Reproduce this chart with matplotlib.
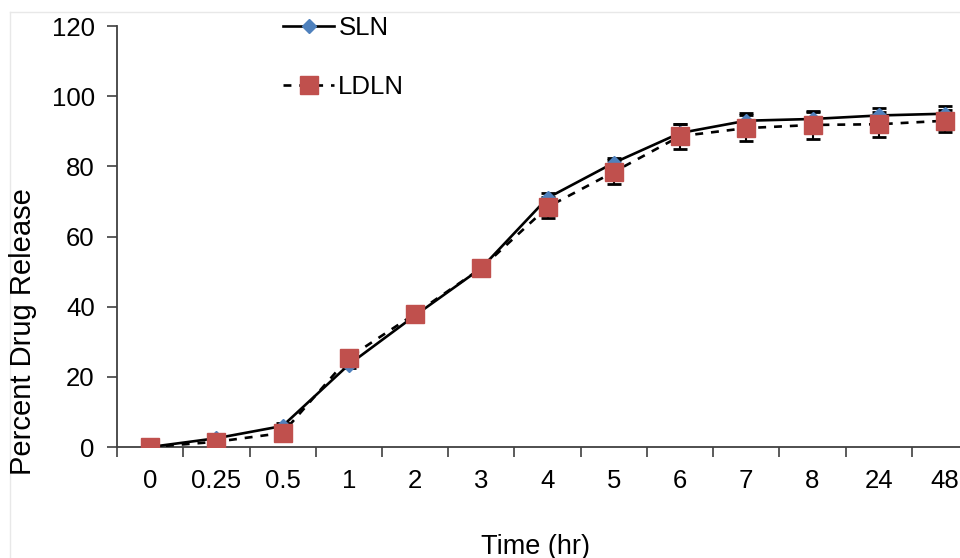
import matplotlib
matplotlib.use("Agg")
import matplotlib.pyplot as plt
from matplotlib.lines import Line2D
import numpy as np

plt.rcParams['font.family'] = ['Liberation Sans', 'DejaVu Sans']

time_labels = ["0", "0.25", "0.5", "1", "2", "3", "4", "5", "6", "7", "8", "24", "48"]
sln = [0, 2.5, 6, 23.5, 37.5, 51, 71, 81, 89.5, 93, 93.5, 94.5, 95]
sln_err = [0, 0.5, 0.8, 1.0, 1.0, 1.0, 1.5, 1.5, 2.5, 2.2, 2.0, 2.0, 2.2]
ldln = [0, 1.5, 4, 25.5, 38, 51, 68.4, 78.4, 88.6, 90.9, 91.8, 92, 93]
ldln_err = [0, 0.5, 0.8, 1.0, 1.0, 1.0, 3.0, 3.4, 3.6, 3.7, 4.0, 3.6, 3.2]
yticks = [0, 20, 40, 60, 80, 100, 120]

fig = plt.figure(figsize=(9.6, 5.58), dpi=100)
ax = fig.add_axes([0.1219, 0.1989, 0.897, 0.7545])

x = np.arange(len(time_labels))
ax.errorbar(x, sln, yerr=sln_err, fmt='none', ecolor='black', elinewidth=1.5, capsize=5, capthick=2, zorder=2)
ax.errorbar(x, ldln, yerr=ldln_err, fmt='none', ecolor='black', elinewidth=1.5, capsize=5, capthick=2, zorder=2)
ax.plot(x, sln, color='black', lw=1.9, marker='D', markersize=7,
        markerfacecolor='#4f81bd', markeredgecolor='#4f81bd', label='SLN', zorder=3)
ax.plot(x, ldln, color='black', lw=1.9, ls=(0, (3, 3)), marker='s', markersize=13,
        markerfacecolor='#c0504d', markeredgecolor='#c0504d', label='LDLN', zorder=4)

ax.set_xlim(-0.5, len(time_labels) - 0.5)
ax.set_ylim(0, 120)
ax.set_yticks(yticks)
ax.set_xticks(x)
ax.set_xticklabels(time_labels)
ax.set_xticks(np.arange(-0.5, len(time_labels), 1), minor=True)
ax.tick_params(axis='x', which='major', length=0, pad=16, labelsize=18.5)
ax.tick_params(axis='x', which='minor', length=7, width=1.2, color='#404040', direction='out')
ax.tick_params(axis='y', which='major', length=7, width=1.2, color='#404040', pad=9, labelsize=18.5)

for s in ['top', 'right']:
    ax.spines[s].set_visible(False)
for s in ['left', 'bottom']:
    ax.spines[s].set_color('#404040')
    ax.spines[s].set_linewidth(1.3)

ax.legend(loc='upper left', bbox_to_anchor=(0.166, 1.078), frameon=False, fontsize=18.5,
          labelspacing=1.35, handlelength=2.0, handletextpad=0.15)

fig.text(0.024, 0.405, 'Percent Drug Release', rotation=90, ha='center', va='center', fontsize=21)
fig.text(0.558, 0.02, 'Time (hr)', ha='center', va='center', fontsize=19.5)

fig.add_artist(Line2D([0.0104, 1.0], [0.9785, 0.9785], transform=fig.transFigure, color='#e8e8e8', lw=1))
fig.add_artist(Line2D([0.0104, 0.0104], [0.0, 0.9785], transform=fig.transFigure, color='#e8e8e8', lw=1))

fig.savefig('out.png', dpi=100)
